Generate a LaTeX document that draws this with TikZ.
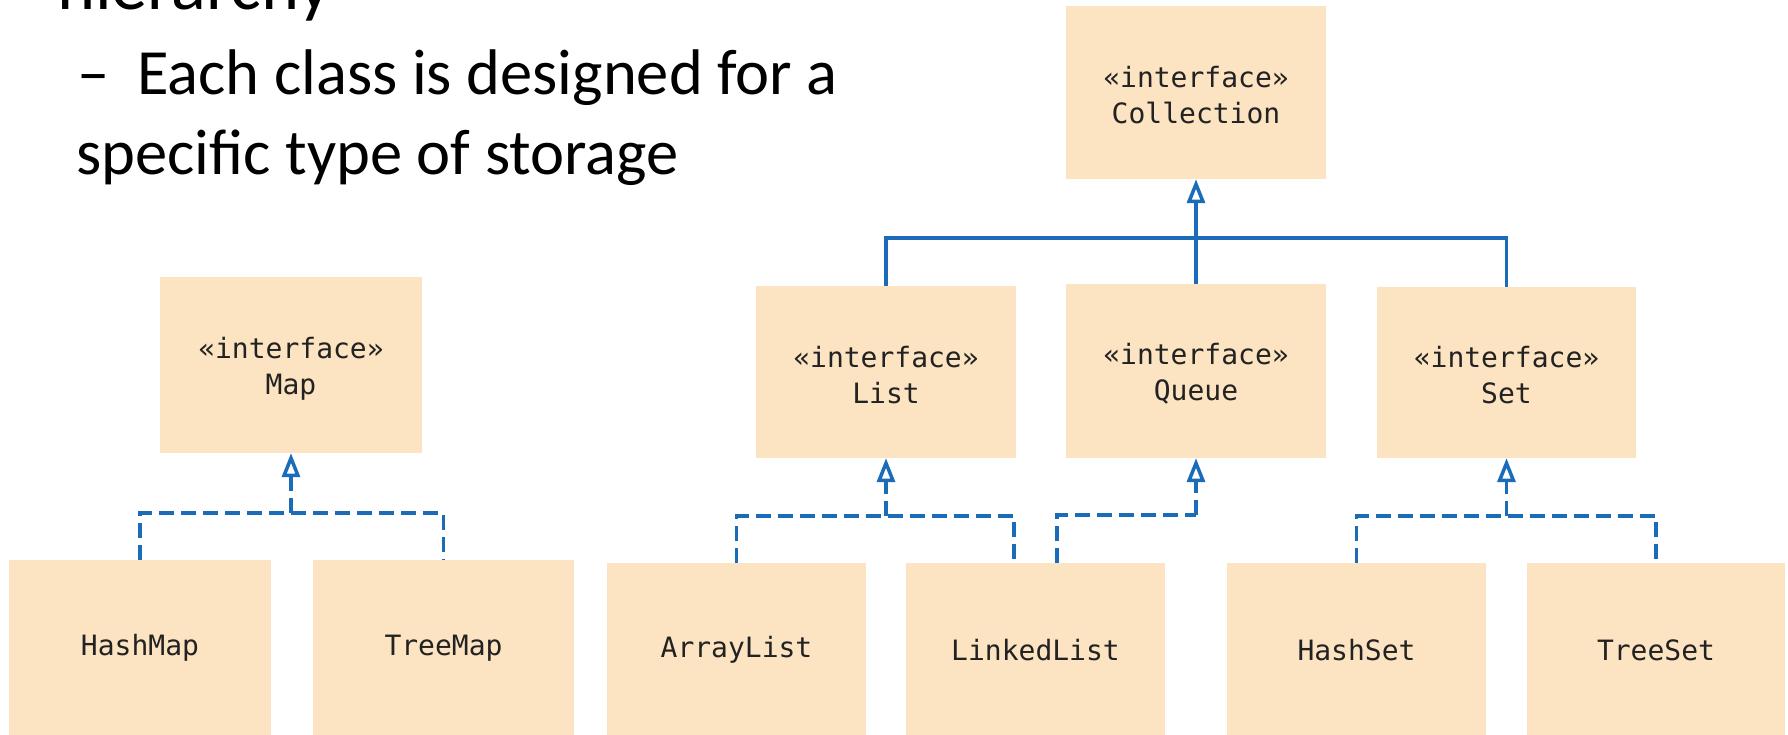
\documentclass[tikz,border=0pt]{standalone}
\usepackage{fontspec}
\setmainfont{Carlito}
\newfontfamily\boxfont{DejaVu Sans Mono}
\usetikzlibrary{arrows.meta}
\definecolor{peach}{HTML}{FCE3C1}
\definecolor{umlblue}{HTML}{1A6BB8}
\definecolor{boxtext}{HTML}{222222}
\begin{document}
\begin{tikzpicture}[x=1pt,y=-1pt,
  cls/.style={fill=peach, draw=none, inner sep=0pt, align=center, text=boxtext,
    font=\boxfont\fontsize{28}{36}\selectfont},
  itxt/.style={inner sep=0pt, align=center, text=boxtext,
    font=\boxfont\fontsize{28}{36}\selectfont},
  link/.style={draw=umlblue, line width=3.5pt},
  realize/.style={link, dash pattern=on 15pt off 7pt},
  inherit/.style={-{Triangle[length=24pt,width=18pt,fill=white]}},
  bullettext/.style={anchor=base west, inner sep=0pt, text=black,
    font=\fontsize{64.5}{78}\selectfont}]
\useasboundingbox (0,0) rectangle (1788,735);
\fill[white] (0,0) rectangle (1788,735);

% slide text
\node[bullettext, font=\fontsize{72.5}{86}\selectfont] (h1) at (57,10) {hierarchy};
\node[bullettext] (dash) at (77,95) {–};
\node[bullettext] (l1) at (137,95) {Each class is designed for a};
\node[bullettext] (l2) at (76,175) {specific type of storage};

% interface boxes
\node[cls, minimum width=260pt, minimum height=173pt] (coll) at (1196,92.5) {};
\node[cls, minimum width=262pt, minimum height=176pt] (map) at (291,365) {};
\node[cls, minimum width=260pt, minimum height=172pt] (list) at (886,372) {};
\node[cls, minimum width=260pt, minimum height=174pt] (queue) at (1196,371) {};
\node[cls, minimum width=259pt, minimum height=171pt] (set) at (1506.5,372.5) {};
\node[itxt] (coll-t) at ([yshift=-3pt]coll.center) {«interface»\\Collection};
\node[itxt] (map-t) at ([yshift=-4pt]map.center) {«interface»\\Map};
\node[itxt] (list-t) at ([yshift=-3pt]list.center) {«interface»\\List};
\node[itxt] (queue-t) at ([yshift=-3pt]queue.center) {«interface»\\Queue};
\node[itxt] (set-t) at ([yshift=-3pt]set.center) {«interface»\\Set};

% classes
\node[cls, minimum width=262pt, minimum height=176pt] (hashmap) at (140,648) {HashMap};
\node[cls, minimum width=261pt, minimum height=176pt] (treemap) at (443.5,648) {TreeMap};
\node[cls, minimum width=259pt, minimum height=174pt] (arraylist) at (736.5,650) {ArrayList};
\node[cls, minimum width=259pt, minimum height=174pt] (linkedlist) at (1035.5,650) {LinkedList};
\node[cls, minimum width=259pt, minimum height=174pt] (hashset) at (1356.5,650) {HashSet};
\node[cls, minimum width=258pt, minimum height=174pt] (treeset) at (1656,650) {TreeSet};

% junctions
\coordinate (cj) at (1196,238);
\coordinate (mj) at (291,513);
\coordinate (lj) at (886,516);
\coordinate (qj) at (1196,515);
\coordinate (sj) at (1506.5,516);

% Collection hierarchy (solid)
\draw[link] (list.north) |- (cj) -| (set.north);
\draw[link] (queue.north) -- (cj);
\draw[link, inherit] (cj) -- (coll.south);

% Map
\draw[realize] (hashmap.north) |- (mj) -| (treemap.north);
\draw[realize, inherit] (mj) -- (map.south);

% List
\draw[realize] (arraylist.north) |- (lj) -| ([xshift=-21.5pt]linkedlist.north);
\draw[realize, inherit] (lj) -- (list.south);

% Queue
\draw[realize] ([xshift=21.5pt]linkedlist.north) |- (qj);
\draw[realize, inherit] (qj) -- (queue.south);

% Set
\draw[realize] (hashset.north) |- (sj) -| (treeset.north);
\draw[realize, inherit] (sj) -- (set.south);
\end{tikzpicture}
\end{document}
